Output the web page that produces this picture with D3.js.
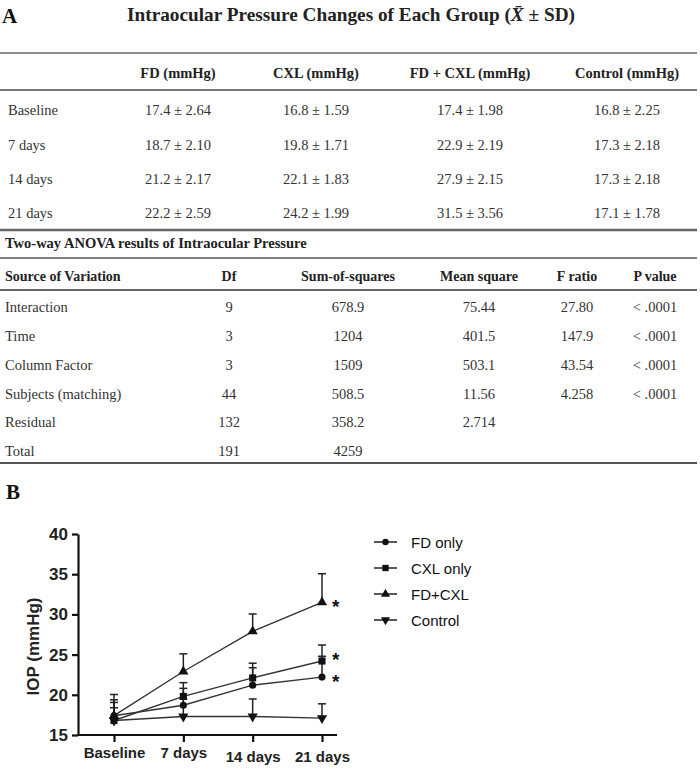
<!DOCTYPE html>
<html>
<head>
<meta charset="utf-8">
<script src="https://cdn.jsdelivr.net/npm/d3@7"></script>
<style>
  html, body { margin: 0; padding: 0; background: #fff; }
</style>
</head>
<body>
<script>
// ---------------- DATA ----------------
const timepoints = ["Baseline", "7 days", "14 days", "21 days"];
const groupNames = ["FD only", "CXL only", "FD+CXL", "Control"];
const tableHeaders = ["FD (mmHg)", "CXL (mmHg)", "FD + CXL (mmHg)", "Control (mmHg)"];

const fdMean    = [17.4, 18.7, 21.2, 22.2];
const fdSD      = [2.64, 2.10, 2.17, 2.59];
const cxlMean   = [16.8, 19.8, 22.1, 24.2];
const cxlSD     = [1.59, 1.71, 1.83, 1.99];
const fdcxlMean = [17.4, 22.9, 27.9, 31.5];
const fdcxlSD   = [1.98, 2.19, 2.15, 3.56];
const ctrlMean  = [16.8, 17.3, 17.3, 17.1];
const ctrlSD    = [2.25, 2.18, 2.18, 1.78];
const significant = [true, true, true, false];

const anovaHeaders = ["Source of Variation", "Df", "Sum-of-squares", "Mean square", "F ratio", "P value"];
const anovaSources = ["Interaction", "Time", "Column Factor", "Subjects (matching)", "Residual", "Total"];
const anovaDf      = ["9", "3", "3", "44", "132", "191"];
const anovaSS      = ["678.9", "1204", "1509", "508.5", "358.2", "4259"];
const anovaMS      = ["75.44", "401.5", "503.1", "11.56", "2.714", ""];
const anovaF       = ["27.80", "147.9", "43.54", "4.258", "", ""];
const anovaP       = ["< .0001", "< .0001", "< .0001", "< .0001", "", ""];

const yTicks = [15, 20, 25, 30, 35, 40];

// ---------------- SETUP ----------------
const W = 700, H = 769;
const serif = "'Liberation Serif', 'Times New Roman', serif";
const sans = "'Liberation Sans', Arial, sans-serif";
const svg = d3.select("body").append("svg").attr("width", W).attr("height", H)
  .style("background", "#fff");

// ---------------- PANEL A ----------------
svg.append("text").attr("x", 2).attr("y", 23)
  .attr("font-family", serif).attr("font-weight", "bold").attr("font-size", 21)
  .attr("fill", "#111").text("A");

const title = svg.append("text").attr("x", 127).attr("y", 20.5)
  .attr("font-family", serif).attr("font-weight", "bold").attr("font-size", 19)
  .attr("fill", "#222").attr("textLength", 448).attr("lengthAdjust", "spacingAndGlyphs");
title.append("tspan").text("Intraocular Pressure Changes of Each Group (");
title.append("tspan").attr("font-style", "italic").text("X\u0304");
title.append("tspan").text("  \u00B1 SD)");

function hline(y, w, color, x0 = 0, x1 = 697) {
  svg.append("line").attr("x1", x0).attr("x2", x1).attr("y1", y).attr("y2", y)
    .attr("stroke", color).attr("stroke-width", w);
}

hline(53, 1.5, "#666");
hline(90, 2.2, "#777");
hline(230, 2.6, "#666");
hline(258, 1.4, "#555");
hline(290, 1.8, "#666");
hline(463, 1.8, "#555");

// Table 1
const t1Cols = [178, 316, 470, 627];
const t1HeaderY = 78;
const t1RowY = [115, 149.5, 184, 218];
const means = [fdMean, cxlMean, fdcxlMean, ctrlMean];
const sds = [fdSD, cxlSD, fdcxlSD, ctrlSD];

svg.append("g").selectAll("text").data(tableHeaders).join("text")
  .attr("x", (d, i) => t1Cols[i]).attr("y", t1HeaderY)
  .attr("text-anchor", "middle").attr("font-family", serif).attr("font-weight", "bold")
  .attr("font-size", 14.5).attr("fill", "#222").text(d => d);

timepoints.forEach((tp, r) => {
  svg.append("text").attr("x", 8).attr("y", t1RowY[r])
    .attr("font-family", serif).attr("font-size", 14.5).attr("fill", "#333").text(tp);
  means.forEach((m, c) => {
    svg.append("text").attr("x", t1Cols[c]).attr("y", t1RowY[r])
      .attr("text-anchor", "middle").attr("font-family", serif).attr("font-size", 14.5)
      .attr("fill", "#333")
      .text(m[r].toFixed(1) + " \u00B1 " + sds[c][r].toFixed(2));
  });
});

// ANOVA table
svg.append("text").attr("x", 5).attr("y", 248)
  .attr("font-family", serif).attr("font-weight", "bold").attr("font-size", 14.5)
  .attr("fill", "#222").text("Two-way ANOVA results of Intraocular Pressure");

const aCols = [5, 229, 348, 479, 577, 655];
const aHeaderY = 281;
const aRowY = [312, 341, 370, 399, 427, 456];
anovaHeaders.forEach((h, i) => {
  svg.append("text").attr("x", aCols[i]).attr("y", aHeaderY)
    .attr("text-anchor", i === 0 ? "start" : "middle")
    .attr("font-family", serif).attr("font-weight", "bold").attr("font-size", 14)
    .attr("fill", "#222").text(h);
});
const anovaCols = [anovaSources, anovaDf, anovaSS, anovaMS, anovaF, anovaP];
anovaSources.forEach((s, r) => {
  anovaCols.forEach((col, c) => {
    if (!col[r]) return;
    svg.append("text").attr("x", aCols[c]).attr("y", aRowY[r])
      .attr("text-anchor", c === 0 ? "start" : "middle")
      .attr("font-family", serif).attr("font-size", 14.5).attr("fill", "#333")
      .text(col[r]);
  });
});

// ---------------- PANEL B ----------------
svg.append("text").attr("x", 6).attr("y", 499)
  .attr("font-family", serif).attr("font-weight", "bold").attr("font-size", 21)
  .attr("fill", "#111").text("B");

const x = d3.scalePoint().domain(timepoints).range([114, 322]);
const y = d3.scaleLinear().domain([15, 40]).range([735, 534]);
const axisX0 = 78;

// y axis
const gy = svg.append("g").attr("transform", `translate(${axisX0},0)`)
  .call(d3.axisLeft(y).tickValues(yTicks).tickSize(6).tickSizeOuter(0).tickPadding(4));
gy.select(".domain").attr("stroke", "#111").attr("stroke-width", 2.2);
gy.selectAll(".tick line").attr("stroke", "#111").attr("stroke-width", 2.2);
gy.selectAll(".tick text").attr("font-family", sans).attr("font-weight", "bold")
  .attr("font-size", 17).attr("fill", "#222");

// x axis
const gx = svg.append("g").attr("transform", `translate(0,${y(15)})`)
  .call(d3.axisBottom(x).tickSize(7).tickSizeOuter(0).tickPadding(5));
gx.select(".domain").remove();
gx.selectAll(".tick line").attr("stroke", "#111").attr("stroke-width", 2.2);
gx.selectAll(".tick text").attr("font-family", sans).attr("font-weight", "bold")
  .attr("font-size", 15).attr("fill", "#222")
  .attr("dy", (d, i) => i >= 2 ? "1.0em" : "0.75em");
svg.append("line").attr("x1", axisX0 - 1).attr("x2", x(timepoints[3]) + 15)
  .attr("y1", y(15)).attr("y2", y(15)).attr("stroke", "#111").attr("stroke-width", 2.2);

// y label
svg.append("text").attr("transform", `translate(33,${(y(15) + y(40)) / 2 + 12}) rotate(-90)`)
  .attr("text-anchor", "middle").attr("dominant-baseline", "central")
  .attr("font-family", sans).attr("font-weight", "bold").attr("font-size", 17)
  .attr("fill", "#222").text("IOP (mmHg)");

const symbols = [
  { type: d3.symbolCircle, size: 40, rot: 0 },
  { type: d3.symbolSquare, size: 50, rot: 0 },
  { type: d3.symbolTriangle, size: 45, rot: 0 },
  { type: d3.symbolTriangle, size: 45, rot: 180 }
];

const series = groupNames.map((g, gi) => ({
  name: g,
  sym: symbols[gi],
  sig: significant[gi],
  pts: timepoints.map((t, i) => ({ t, m: means[gi][i], sd: sds[gi][i] }))
}));

const line = d3.line().x(d => x(d.t)).y(d => y(d.m));
const plot = svg.append("g");

series.forEach(s => {
  plot.append("path").attr("d", line(s.pts)).attr("fill", "none")
    .attr("stroke", "#333").attr("stroke-width", 1.4);
});
series.forEach(s => {
  s.pts.forEach(p => {
    const cx = x(p.t);
    plot.append("line").attr("x1", cx).attr("x2", cx).attr("y1", y(p.m)).attr("y2", y(p.m + p.sd))
      .attr("stroke", "#222").attr("stroke-width", 1.5);
    plot.append("line").attr("x1", cx - 4).attr("x2", cx + 4)
      .attr("y1", y(p.m + p.sd)).attr("y2", y(p.m + p.sd))
      .attr("stroke", "#222").attr("stroke-width", 1.5);
  });
});
series.forEach(s => {
  const path = d3.symbol().type(s.sym.type).size(s.sym.size)();
  s.pts.forEach(p => {
    plot.append("path").attr("d", path)
      .attr("transform", `translate(${x(p.t)},${y(p.m)}) rotate(${s.sym.rot})`)
      .attr("fill", "#111");
  });
});

// significance asterisks at last timepoint, nudged apart so they don't collide
const lastT = timepoints[timepoints.length - 1];
const stars = series.filter(s => s.sig)
  .map(s => ({ yy: y(s.pts[s.pts.length - 1].m) }))
  .sort((a, b) => b.yy - a.yy); // bottom first
const minGap = 22;
for (let i = 1; i < stars.length; i++) {
  if (stars[i - 1].yy - stars[i].yy < minGap) stars[i].yy = stars[i - 1].yy - minGap;
}
stars.forEach(st => {
  plot.append("text").attr("x", x(lastT) + 10).attr("y", st.yy + 11)
    .attr("font-family", sans).attr("font-weight", "bold").attr("font-size", 19)
    .attr("fill", "#111").text("*");
});

// legend
const leg = svg.append("g");
series.forEach((s, i) => {
  const ly = 542 + i * 26;
  leg.append("line").attr("x1", 374).attr("x2", 397).attr("y1", ly).attr("y2", ly)
    .attr("stroke", "#222").attr("stroke-width", 1.5);
  leg.append("path").attr("d", d3.symbol().type(s.sym.type).size(s.sym.size * 0.8)())
    .attr("transform", `translate(385.5,${ly}) rotate(${s.sym.rot})`).attr("fill", "#111");
  leg.append("text").attr("x", 411).attr("y", ly).attr("dominant-baseline", "central")
    .attr("font-family", sans).attr("font-size", 15).attr("fill", "#111").text(s.name);
});
</script>
</body>
</html>
